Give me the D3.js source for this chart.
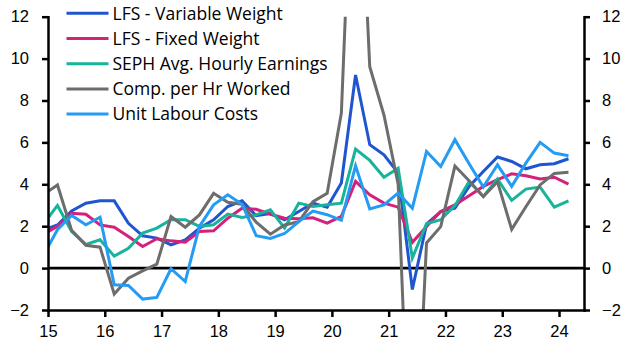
<!DOCTYPE html>
<html lang="en">
<head>
    <meta charset="UTF-8">
    <title>UK labour cost measures</title>
    <script src="https://d3js.org/d3.v7.min.js"></script>
    <style>
        body { margin: 0; background: #fff; }
        svg { font-family: "Open Sans", sans-serif; }
        .axis text { font-size: 16.5px; fill: #000; }
        .axis path, .axis line { stroke: #000; stroke-width: 2.5; }
        .legend text { font-size: 17.5px; fill: #000; }
    </style>
</head>
<body>
<div id="chart"></div>
<script>
const width = 629;
const height = 354;

// quarters, 2014 Q4 to 2024 Q1 (first point sits just left of the axis and gets clipped)
const quarters = [
    "2014Q4",
    "2015Q1","2015Q2","2015Q3","2015Q4",
    "2016Q1","2016Q2","2016Q3","2016Q4",
    "2017Q1","2017Q2","2017Q3","2017Q4",
    "2018Q1","2018Q2","2018Q3","2018Q4",
    "2019Q1","2019Q2","2019Q3","2019Q4",
    "2020Q1","2020Q2","2020Q3","2020Q4",
    "2021Q1","2021Q2","2021Q3","2021Q4",
    "2022Q1","2022Q2","2022Q3","2022Q4",
    "2023Q1","2023Q2","2023Q3","2023Q4",
    "2024Q1"
];

// % y/y
const lfsVariable = [1.82, 2.06, 2.73, 3.1, 3.21, 3.21, 2.14, 1.54, 1.43, 1.11, 1.35, 1.9, 2.3, 2.94, 3.21, 2.5, 2.6, 2.3, 2.7, 3.1,
    2.9, 4.06, 9.22, 5.89, 5.41, 4.55, -1.02, 2.1, 2.7, 2.86, 3.9, 4.61, 5.3, 5.09, 4.74, 4.93, 4.98, 5.22];
const lfsFixed = [1.63, 1.99, 2.62, 2.57, 2.06, 1.95, 1.51, 1.03, 1.4, 1.3, 1.24, 1.75, 1.78, 2.38, 2.86, 2.81, 2.57, 2.38, 2.35, 2.4,
    2.15, 2.47, 4.14, 3.5, 3.1, 2.91, 1.23, 1.99, 2.7, 3.02, 3.45, 3.9, 4.22, 4.5, 4.41, 4.25, 4.34, 4.01];
const sephEarnings = [2.09, 2.99, 1.75, 1.13, 1.35, 0.57, 0.95, 1.67, 1.91, 2.31, 2.31, 1.99, 2.07, 2.58, 2.42, 2.54, 2.78, 1.91, 3.1, 2.94,
    3.02, 3.1, 5.68, 5.14, 4.34, 4.77, 0.48, 2.12, 2.31, 2.98, 4.14, 3.42, 4.25, 3.23, 3.77, 3.87, 2.91, 3.21];
const compPerHour = [3.5, 3.97, 1.8, 1.09, 1.0, -1.24, -0.48, -0.13, 0.19, 2.46, 1.95, 2.54, 3.57, 3.14, 3.05, 2.19, 1.62, 2.06, 2.22, 3.17,
    3.57, 7.4, 24, 9.61, 7.31, 4.0, -13, 1.2, 1.98, 4.87, 4.17, 3.41, 4.12, 1.85, 2.93, 3.97, 4.52, 4.57];
const unitLabourCosts = [0.6, 1.83, 2.51, 2.07, 2.43, -0.8, -0.83, -1.48, -1.4, -0.03, -0.64, 1.99, 3.02, 3.5, 3.05, 1.55, 1.42, 1.65, 2.22, 2.72,
    2.55, 2.28, 4.88, 2.82, 3.02, 3.58, 2.86, 5.57, 4.85, 6.13, 4.98, 3.87, 4.93, 3.9, 5.01, 6.0, 5.49, 5.36];

const seriesNames = ["LFS - Variable Weight", "LFS - Fixed Weight", "SEPH Avg. Hourly Earnings", "Comp. per Hr Worked", "Unit Labour Costs"];
const seriesValues = [lfsVariable, lfsFixed, sephEarnings, compPerHour, unitLabourCosts];
const colors = ["#1f55cf", "#d4217a", "#18b39b", "#6d6d6d", "#249cf4"];

const yTicks = [-2, 0, 2, 4, 6, 8, 10, 12];
const xTicks = [15, 16, 17, 18, 19, 20, 21, 22, 23, 24];

const margin = { top: 16.7, right: 45, bottom: 44, left: 48 };

// quarter -> decimal year (2-digit), plotted at the middle month of the quarter
function quarterPos(q) {
    const yr = +q.slice(2, 4);
    const qn = +q.slice(5);
    return yr + (qn - 1) / 4 + 1 / 6;
}

const x = d3.scaleLinear()
    .domain([15, 24.44])
    .range([margin.left, width - margin.right]);

const y = d3.scaleLinear()
    .domain([-2, 12])
    .range([height - margin.bottom, margin.top]);

const svg = d3.select("#chart")
    .append("svg")
    .attr("width", width)
    .attr("height", height);

svg.append("defs").append("clipPath")
    .attr("id", "plot")
    .append("rect")
    .attr("x", x.range()[0])
    .attr("y", y.range()[1])
    .attr("width", x.range()[1] - x.range()[0])
    .attr("height", y.range()[0] - y.range()[1]);

// zero line
svg.append("line")
    .attr("x1", x.range()[0])
    .attr("x2", x.range()[1])
    .attr("y1", y(0))
    .attr("y2", y(0))
    .attr("stroke", "#000")
    .attr("stroke-width", 2.8);

const line = d3.line()
    .x((d, i) => x(quarterPos(quarters[i])))
    .y(d => y(d));

const lines = svg.append("g").attr("clip-path", "url(#plot)");
seriesValues.forEach((vals, i) => {
    lines.append("path")
        .datum(vals)
        .attr("fill", "none")
        .attr("stroke", colors[i])
        .attr("stroke-width", 3)
        .attr("stroke-linejoin", "miter")
        .attr("d", line);
});

// axes
svg.append("g")
    .attr("class", "axis")
    .attr("transform", `translate(${x.range()[0]},0)`)
    .call(d3.axisLeft(y).tickValues(yTicks).tickSize(6).tickSizeOuter(0).tickPadding(13));

svg.append("g")
    .attr("class", "axis")
    .attr("transform", `translate(${x.range()[1]},0)`)
    .call(d3.axisRight(y).tickValues(yTicks).tickSize(6).tickSizeOuter(0).tickPadding(12));

svg.append("g")
    .attr("class", "axis")
    .attr("transform", `translate(0,${y.range()[0]})`)
    .call(d3.axisBottom(x).tickValues(xTicks).tickFormat(d3.format("d")).tickSize(7).tickSizeOuter(0).tickPadding(8));

svg.selectAll(".axis .domain").attr("stroke-linecap", "square");

// legend
const legend = svg.append("g").attr("class", "legend");
seriesNames.forEach((name, i) => {
    const ly = 13.3 + i * 25.2;
    legend.append("line")
        .attr("x1", 66.5).attr("x2", 108.5)
        .attr("y1", ly).attr("y2", ly)
        .attr("stroke", colors[i])
        .attr("stroke-width", 3);
    legend.append("text")
        .attr("x", 112.5)
        .attr("y", ly + 6.2)
        .text(name);
});
</script>
</body>
</html>
